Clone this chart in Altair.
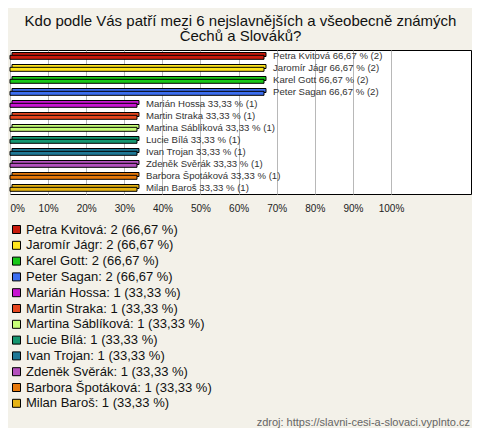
import altair as alt
import pandas as pd

# ---- data ----
names = ["Petra Kvitová", "Jaromír Jágr", "Karel Gott", "Peter Sagan",
         "Marián Hossa", "Martin Straka", "Martina Sáblíková", "Lucie Bílá",
         "Ivan Trojan", "Zdeněk Svěrák", "Barbora Špotáková", "Milan Baroš"]
counts = [2, 2, 2, 2, 1, 1, 1, 1, 1, 1, 1, 1]
percents = [66.67, 66.67, 66.67, 66.67, 33.33, 33.33, 33.33, 33.33,
            33.33, 33.33, 33.33, 33.33]
colors = ["#c81a0c", "#ffe61e", "#18c818", "#3c6ef0", "#c814d2", "#e6461e",
          "#c8ff78", "#149670", "#1e7896", "#b450be", "#e6780a", "#e6b414"]
tick_values = [0, 10, 20, 30, 40, 50, 60, 70, 80, 90, 100]
title_lines = ["Kdo podle Vás patří mezi 6 nejslavnějších a všeobecně známých",
               "Čechů a Slováků?"]
source_text = ["zdroj: https://slavni-cesi-a-slovaci.vyplnto.cz"]


def fmt(p):
    return f"{p:.2f}".replace(".", ",")


bar_labels = [f"{n} {fmt(p)} % ({c})" for n, p, c in zip(names, percents, counts)]
legend_labels = [f"{n}: {c} ({fmt(p)} %)" for n, p, c in zip(names, percents, counts)]

df = pd.DataFrame({
    "name": names,
    "value": percents,
    "bar_label": bar_labels,
    "legend_label": legend_labels,
})
src = pd.DataFrame({"t": source_text})

FONT = "Liberation Sans"

y_enc = alt.Y("name:N", sort=names, axis=None,
              scale=alt.Scale(paddingInner=0, paddingOuter=0))
x_enc = alt.X("value:Q",
              scale=alt.Scale(domain=[0, 121], nice=False, zero=True),
              axis=alt.Axis(values=tick_values, labelExpr="datum.value + '%'",
                            title=None, ticks=False, domain=False, grid=True,
                            gridColor="#b8b8b8", gridWidth=1,
                            labelFont=FONT, labelFontSize=10, labelColor="#222",
                            labelPadding=9, labelFlush=True))
color_enc = alt.Color("legend_label:N",
                      scale=alt.Scale(domain=legend_labels, range=colors),
                      legend=alt.Legend(orient="none", legendX=0, legendY=173,
                                        title=None, padding=0,
                                        symbolType="square", symbolSize=64,
                                        symbolStrokeColor="black",
                                        symbolStrokeWidth=1,
                                        symbolOpacity=1,
                                        labelFont=FONT, labelFontSize=13,
                                        labelColor="#111", labelLimit=400,
                                        labelOffset=3, rowPadding=1.8))

base = alt.Chart(df).encode(y=y_enc)

back = base.mark_bar(size=4, yOffset=-1.5, xOffset=2, stroke="black",
                     strokeWidth=1, opacity=1).encode(x=x_enc, color=color_enc)
front = base.mark_bar(size=4, yOffset=1.3, stroke="black",
                      strokeWidth=1, opacity=1).encode(
    x=alt.X("value:Q"), color=alt.Color("legend_label:N"))
labels = base.mark_text(align="left", baseline="middle", dx=9, font=FONT,
                        fontSize=9.6, color="#333").encode(
    x=alt.X("value:Q"), text="bar_label:N")

source = alt.Chart(src).mark_text(align="right", baseline="middle", font=FONT,
                                  fontSize=11, color="#666").encode(
    x=alt.value(460), y=alt.value(373), text="t:N")

chart = alt.layer(back, front, labels, source).properties(
    width=461, height=144,
    padding={"left": 2, "top": 42, "right": 1, "bottom": 234},
    autosize=alt.AutoSizeParams(type="none"),
    title=alt.TitleParams(text=title_lines, anchor="middle", font=FONT,
                          fontSize=15, fontWeight="normal", color="#111",
                          lineHeight=15.5, offset=6),
).configure(background="#f3f1e9").configure_view(
    fill="white", stroke="black", strokeWidth=1)

chart.save("out.html", embed_options={"renderer": "svg", "actions": False})
